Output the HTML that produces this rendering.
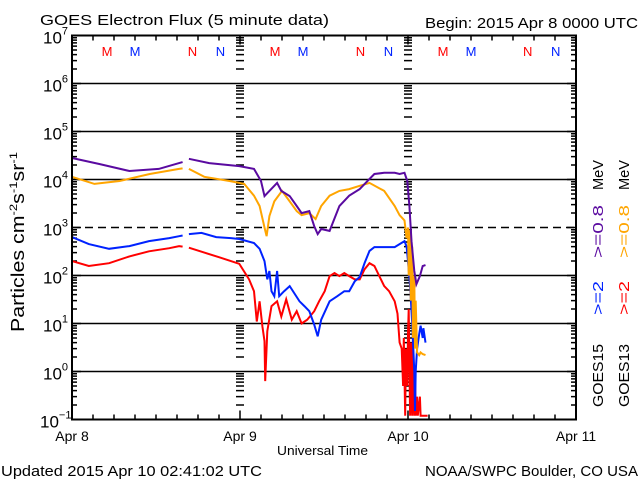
<!DOCTYPE html>
<html><head><meta charset="utf-8"><style>
html,body{margin:0;padding:0;background:#fff;}
svg{display:block;font-family:"Liberation Sans",sans-serif;}
</style></head><body>
<svg id="chart" width="640" height="480" viewBox="0 0 640 480" xmlns="http://www.w3.org/2000/svg">
<rect width="640" height="480" fill="#fff"/>
<text x="40" y="25" font-size="15" textLength="289" lengthAdjust="spacingAndGlyphs">GOES Electron Flux (5 minute data)</text>
<text x="425" y="28" font-size="15" textLength="213" lengthAdjust="spacingAndGlyphs">Begin: 2015 Apr 8 0000 UTC</text>
<text x="277" y="455" font-size="13" textLength="91" lengthAdjust="spacingAndGlyphs">Universal Time</text>
<text x="1" y="476" font-size="15" textLength="261" lengthAdjust="spacingAndGlyphs">Updated 2015 Apr 10 02:41:02 UTC</text>
<text x="425" y="476" font-size="15" textLength="213" lengthAdjust="spacingAndGlyphs">NOAA/SWPC Boulder, CO USA</text>
<text transform="translate(24,332) rotate(-90)" font-size="18" textLength="180" lengthAdjust="spacingAndGlyphs">Particles cm<tspan font-size="11" dy="-7">-2</tspan><tspan dy="7">s</tspan><tspan font-size="11" dy="-7">-1</tspan><tspan dy="7">sr</tspan><tspan font-size="11" dy="-7">-1</tspan></text>
<g id="grid"></g>
<g id="ticks"></g>
<g id="series"></g>
<g id="labels"></g>
<rect x="72" y="35.5" width="504" height="384" fill="none" stroke="#000" stroke-width="2"/>
<g font-size="15">
<text transform="translate(603,407) rotate(-90)" textLength="63" lengthAdjust="spacingAndGlyphs">GOES15</text>
<text fill="#0022ff" transform="translate(603,315) rotate(-90)" textLength="34" lengthAdjust="spacingAndGlyphs">&gt;=2</text>
<text fill="#5a0aa0" transform="translate(603,258) rotate(-90)" textLength="53" lengthAdjust="spacingAndGlyphs">&gt;=0.8</text>
<text transform="translate(603,190) rotate(-90)" textLength="30" lengthAdjust="spacingAndGlyphs">MeV</text>
<text transform="translate(629,407) rotate(-90)" textLength="63" lengthAdjust="spacingAndGlyphs">GOES13</text>
<text fill="#ff0000" transform="translate(629,315) rotate(-90)" textLength="34" lengthAdjust="spacingAndGlyphs">&gt;=2</text>
<text fill="#ffa500" transform="translate(629,258) rotate(-90)" textLength="53" lengthAdjust="spacingAndGlyphs">&gt;=0.8</text>
<text transform="translate(629,190) rotate(-90)" textLength="30" lengthAdjust="spacingAndGlyphs">MeV</text>
</g>
</svg>
<script>
// ---- data (hours since Apr 8 00:00 UTC, flux values) ----
const dayLabels = ["Apr 8","Apr 9","Apr 10","Apr 11"];
const yExponents = [7,6,5,4,3,2,1,0,-1];
const markerLabels = ["M","M","N","N","M","M","N","N","M","M","N","N"];
const markerHours = [5.0,9.0,17.2,21.2,29.0,33.0,41.2,45.2,53.0,57.0,65.1,69.1];
const markerSat = [13,15,13,15,13,15,13,15,13,15,13,15];

const purpleHours = [0,3.9,8.2,12.4,15.3,15.8,16.4,16.7,19.6,23.9,26.0,27.0,27.5,28.2,29.3,29.9,31.1,32.1,32.8,33.9,34.6,35.1,35.6,36.8,38.2,39.6,41.1,42.5,43.2,44.6,46.1,46.8,47.5,47.9,48.2,48.5,48.9,49.2,49.7,50.1,50.5];
const purpleValues = [28000,21000,15000,16600,22000,23000,null,27000,22000,19000,16600,9300,4500,5800,8500,5800,4500,2800,2000,2200,1070,730,930,850,2800,4600,6300,10300,13000,13800,13800,13000,13800,9300,2800,520,124,66,97,158,165];

const orangeHours = [0,3.2,6.8,11.1,15.3,15.8,16.4,16.7,18.9,22.5,24.6,26.0,26.8,27.5,27.8,28.2,28.9,30.0,31.1,32.1,32.8,33.9,34.8,35.6,36.8,38.2,39.6,41.1,42.5,44.6,46.1,46.8,47.5,47.8,48.0,48.1,48.3,48.4,48.6,48.7,48.9,49.0,49.1,49.3,49.6,49.8,50.1,50.5];
const orangeValues = [11400,8100,9300,13000,16600,17000,null,16600,11400,9300,8100,4600,2800,1000,660,1730,3500,5800,3500,2200,1800,2000,1500,2800,4600,5800,6300,7400,8500,5800,2800,1800,1400,600,1000,100,900,30,400,5,100,3,30,2.5,2.2,2.5,2.3,2.2];

const blueHours = [0,2.4,5.3,8.2,11.0,13.9,15.3,15.8,16.4,16.7,18.5,20.6,22.7,23.9,26.0,26.8,27.5,27.9,28.2,28.5,28.9,29.3,29.6,30.3,31.1,32.5,33.2,33.9,34.6,35.1,35.6,36.8,37.9,38.9,39.6,40.4,41.1,41.8,42.5,43.2,44.6,46.1,47.5,47.8,48.0,48.3,48.6,48.9,49.0,49.1,49.3,49.6,49.8,50.1,50.2,50.5];
const blueValues = [630,450,360,410,520,600,660,680,null,730,770,630,600,575,475,360,200,83,124,47,37,124,37,47,60,29,23,18,9.5,5.4,12,29,37,47,47,76,93,182,325,390,390,390,520,400,200,60,10,1,0.15,1,3,6,9,5,8,4];

const redHours = [0,2.4,5.3,8.2,11.0,13.9,15.3,15.8,16.4,16.7,18.9,21.0,23.9,25.3,26.0,26.4,26.8,27.2,27.5,27.6,27.9,28.5,29.3,29.9,30.6,31.4,32.1,32.8,33.6,34.6,35.3,36.1,36.8,37.5,38.2,38.9,39.6,40.4,41.1,41.8,42.5,43.2,43.9,44.6,45.3,46.1,46.5,46.8,47.1,47.3,47.4,47.6,47.7,47.9,48.0,48.1,48.3,48.4,48.6,48.7,48.9,49.0,49.1,49.3,49.4,49.7,49.8,50.8];
const redValues = [200,158,180,250,320,370,410,400,null,380,300,240,175,83,47,11,29,8.7,4.3,0.63,6.9,23,29,14,32,12,18,10,12,18,29,47,97,112,97,112,97,83,83,135,180,158,97,60,47,29,16,4,3,0.5,5,0.12,3,0.5,6,20,0.12,4,0.12,5,0.12,1,0.12,0.3,0.12,0.3,0.12,0.12];

// ---- axes ----
const X0=72, X1=576, Y0=35.5, DEC=48;
const xScale = h => X0 + (X1-X0)*h/72;
const yScale = v => Y0 + (7 - Math.log10(v))*DEC;
const NS="http://www.w3.org/2000/svg";
function mk(tag, parent){const e=document.createElementNS(NS,tag);parent.appendChild(e);return e;}
const grid=document.getElementById('grid'), ticks=document.getElementById('ticks'), series=document.getElementById('series'), labels=document.getElementById('labels');

// horizontal grid lines
yExponents.forEach(p=>{
  if(p===7||p===-1) return;
  const l=mk('line',grid);
  
  
  const y=yScale(Math.pow(10,p));
  l.setAttribute('x1',X0);l.setAttribute('x2',X1);l.setAttribute('y1',y);l.setAttribute('y2',y);
  l.setAttribute('stroke','#000');l.setAttribute('stroke-width','1.6');
  if(p===3) l.setAttribute('stroke-dasharray','8,5');
});

// y ticks (left, right, and day lines)
let d="";
for(let p=-1;p<7;p++){
  for(let m=1;m<10;m++){
    const y=yScale(m*Math.pow(10,p));
    const len = m===1?9:5;
    d+=`M${X0} ${y}h${len}M${X1} ${y}h${-len}`;
    if(m>1){ [48,24].forEach(h=>{const x=xScale(h); d+=`M${x-4} ${y}h8`;}); }
  }
}
// x ticks every 3h
for(let h=0;h<=72;h+=3){
  const x=xScale(h); const len = h%24===0?9:5;
  d+=`M${x} ${Y0+384}v${-len}M${x} ${Y0}v${len}`;
}
const tp=mk('path',ticks);


tp.setAttribute('d',d);tp.setAttribute('stroke','#000');tp.setAttribute('stroke-width','1.5');tp.setAttribute('fill','none');

// y labels
yExponents.forEach(p=>{
  const y=yScale(Math.pow(10,p));
  const t=mk('text',labels);
  
  
  t.setAttribute('x', p<0?40:43);t.setAttribute('y',y+8);t.setAttribute('font-size','17');
  t.textContent='10';
  const s=mk('tspan',t);s.setAttribute('font-size','11');s.setAttribute('dy','-9');s.textContent=String(p).replace('-','\u2212');
});
// x labels
dayLabels.forEach((lab,i)=>{
  const t=mk('text',labels);
  
  
  t.setAttribute('x',xScale(i*24));t.setAttribute('y',441);t.setAttribute('font-size','14');t.setAttribute('text-anchor','middle');
  t.textContent=lab;
});
// M/N markers
markerLabels.forEach((lab,i)=>{
  const t=mk('text',labels);
  
  
  t.setAttribute('x',xScale(markerHours[i]));t.setAttribute('y',56);t.setAttribute('font-size','13');t.setAttribute('text-anchor','middle');
  t.setAttribute('fill',markerSat[i]===13?'#ff0000':'#0022ff');
  t.textContent=lab;
});

// series
function drawSeries(hours, vals, color, name, w){
  let segs=[], cur=[];
  hours.forEach((h,i)=>{
    const v=vals[i];
    if(v===null){ if(cur.length) segs.push(cur); cur=[]; return; }
    cur.push(xScale(h).toFixed(1)+','+yScale(v).toFixed(1));
  });
  if(cur.length) segs.push(cur);
  segs.forEach(s=>{
    const pl=mk('polyline',series);
    
    
    pl.setAttribute('points',s.join(' '));
    pl.setAttribute('fill','none');pl.setAttribute('stroke',color);pl.setAttribute('stroke-width',w);
    pl.setAttribute('stroke-linejoin','miter');
  });
}
drawSeries(redHours, redValues, '#ff0000', 'goes13-2mev-line', 2);
drawSeries(blueHours, blueValues, '#0022ff', 'goes15-2mev-line', 2);
drawSeries(orangeHours, orangeValues, '#ffa500', 'goes13-08mev-line', 2);
drawSeries(purpleHours, purpleValues, '#5a0aa0', 'goes15-08mev-line', 2);
</script>
</body></html>
